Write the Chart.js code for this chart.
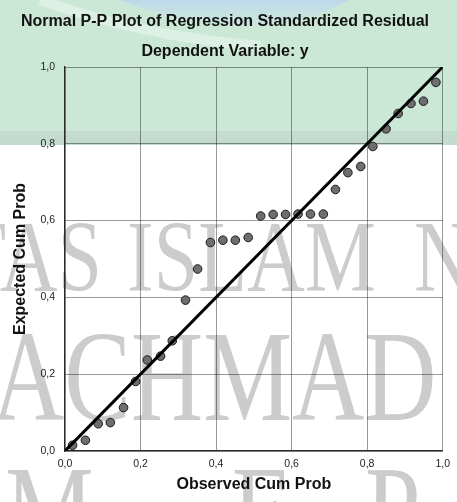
<!DOCTYPE html>
<html>
<head>
<meta charset="utf-8">
<script src="https://cdn.jsdelivr.net/npm/chart.js@4.4.1/dist/chart.umd.min.js"></script>
<style>
  html, body { margin: 0; padding: 0; background: #fff; }
  #wrap { width: 457px; height: 502px; }
</style>
</head>
<body>
<div id="wrap"><canvas id="ppCanvas" width="457" height="502"></canvas></div>
<script>
// observed vs expected cumulative probabilities
var observedCum = [0.020, 0.054, 0.088, 0.120, 0.155, 0.187, 0.218, 0.253, 0.284, 0.319,
                   0.351, 0.385, 0.418, 0.451, 0.485, 0.518, 0.551, 0.584, 0.617, 0.650,
                   0.684, 0.716, 0.749, 0.783, 0.815, 0.850, 0.882, 0.916, 0.949, 0.982];
var expectedCum = [0.015, 0.028, 0.071, 0.074, 0.113, 0.181, 0.237, 0.247, 0.287, 0.393,
                   0.474, 0.543, 0.549, 0.549, 0.556, 0.612, 0.616, 0.616, 0.617, 0.617,
                   0.617, 0.681, 0.725, 0.741, 0.793, 0.839, 0.879, 0.905, 0.911, 0.960];
// diagonal reference line
var refLineX = [0, 1];
var refLineY = [0, 1];
// axis ticks
var tickValues = [0, 0.2, 0.4, 0.6, 0.8, 1.0];
var tickLabels = ["0,0", "0,2", "0,4", "0,6", "0,8", "1,0"];

var sansFont = "'Liberation Sans', Arial, sans-serif";

// background: green header band, wave and the faint watermark letters
var watermark = {
  id: "watermark",
  beforeDraw: function (chart) {
    var ctx = chart.ctx;
    var w = chart.width, h = chart.height;
    ctx.save();
    ctx.fillStyle = "#ffffff";
    ctx.fillRect(0, 0, w, h);

    ctx.fillStyle = "#cbe8d7";
    ctx.fillRect(0, 0, w, 131);
    ctx.fillStyle = "#c4dccf";
    ctx.fillRect(0, 131, w, 14);

    // blue wave at the top
    var grad = ctx.createLinearGradient(0, 0, 0, 30);
    grad.addColorStop(0, "rgba(188,216,236,0.9)");
    grad.addColorStop(1, "rgba(200,225,235,0.2)");
    ctx.fillStyle = grad;
    ctx.beginPath();
    ctx.moveTo(120, 0);
    ctx.quadraticCurveTo(180, 24, 250, 26);
    ctx.quadraticCurveTo(310, 22, 350, 0);
    ctx.closePath();
    ctx.fill();

    ctx.strokeStyle = "rgba(255,255,255,0.35)";
    ctx.lineWidth = 10;
    ctx.beginPath();
    ctx.moveTo(40, 0);
    ctx.quadraticCurveTo(140, 36, 260, 46);
    ctx.stroke();

    // watermark letters
    ctx.fillStyle = "#cccccc";
    ctx.textBaseline = "alphabetic";
    ctx.font = "80px 'Liberation Serif', 'Times New Roman', serif";
    ctx.save();
    ctx.translate(0, 291);
    ctx.scale(1, 1.28);
    ctx.textAlign = "right";
    ctx.fillText("TAS", 102, 0);
    ctx.textAlign = "left";
    ctx.fillText("ISLAM", 127, 0);
    ctx.fillText("N", 414, 0);
    ctx.restore();

    ctx.font = "100px 'Liberation Serif', 'Times New Roman', serif";
    ctx.save();
    ctx.translate(0, 420);
    ctx.scale(1, 1.3);
    ctx.textAlign = "left";
    ctx.fillText("ACHMAD", -8, 0);
    ctx.restore();

    ctx.save();
    ctx.translate(0, 555);
    ctx.scale(1, 1.3);
    ctx.fillText("M", 5, 0);
    ctx.fillText("F", 232, 0);
    ctx.fillText("P", 365, 0);
    ctx.restore();

    ctx.restore();
  }
};

function fixedTicks(scale) {
  scale.ticks = tickValues.map(function (v) { return { value: v }; });
}

var scatterPoints = observedCum.map(function (x, i) {
  return { x: x, y: expectedCum[i] };
});
var linePoints = refLineX.map(function (x, i) {
  return { x: x, y: refLineY[i] };
});

var ctx = document.getElementById("ppCanvas").getContext("2d");
var ppChart = new Chart(ctx, {
  type: "scatter",
  data: {
    datasets: [
      {
        type: "line",
        data: linePoints,
        borderColor: "#000000",
        borderWidth: 3,
        pointRadius: 0,
        fill: false,
        order: 0,
      },
      {
        type: "scatter",
        data: scatterPoints,
        pointRadius: 4.3,
        pointBackgroundColor: "#6e6e6e",
        pointBorderColor: "#1a1a1a",
        pointBorderWidth: 1,
        order: 1,
      },
    ],
  },
  options: {
    responsive: false,
    animation: false,
    layout: { padding: { top: 0, right: 7, bottom: 0, left: 0 } },
    plugins: {
      legend: { display: false },
      tooltip: { enabled: false },
      title: {
        display: true,
        text: "Normal P-P Plot of Regression Standardized Residual",
        color: "#111111",
        font: { family: sansFont, size: 16, weight: "bold" },
        padding: { top: 12, bottom: 11 },
      },
      subtitle: {
        display: true,
        text: "Dependent Variable: y",
        color: "#111111",
        font: { family: sansFont, size: 16, weight: "bold" },
        padding: { top: 0, bottom: 5.6 },
      },
    },
    scales: {
      x: {
        type: "linear",
        min: 0,
        max: 1,
        afterBuildTicks: fixedTicks,
        afterFit: function (scale) { scale.height = 51; },
        grid: { color: "rgba(0,0,0,0.4)", lineWidth: 1, drawTicks: false },
        border: { display: true, color: "#2a2a2a", width: 1.2 },
        ticks: {
          padding: 7,
          color: "#222222",
          font: { family: sansFont, size: 10.5 },
          maxRotation: 0,
          callback: function (value, index) { return tickLabels[index]; },
        },
        title: {
          display: true,
          text: "Observed Cum Prob",
          color: "#111111",
          font: { family: sansFont, size: 16, weight: "bold" },
          padding: { top: 8, bottom: 8 },
        },
      },
      y: {
        type: "linear",
        min: 0,
        max: 1,
        afterBuildTicks: fixedTicks,
        afterFit: function (scale) { scale.width = 65; },
        grid: { color: "rgba(0,0,0,0.4)", lineWidth: 1, drawTicks: false },
        border: { display: true, color: "#2a2a2a", width: 1.2 },
        ticks: {
          padding: 10,
          color: "#222222",
          font: { family: sansFont, size: 10.5 },
          callback: function (value, index) { return tickLabels[index]; },
        },
        title: {
          display: true,
          text: "Expected Cum Prob",
          color: "#111111",
          font: { family: sansFont, size: 16, weight: "bold" },
          padding: { top: 11, bottom: 11 },
        },
      },
    },
  },
  plugins: [watermark],
});
</script>
</body>
</html>
